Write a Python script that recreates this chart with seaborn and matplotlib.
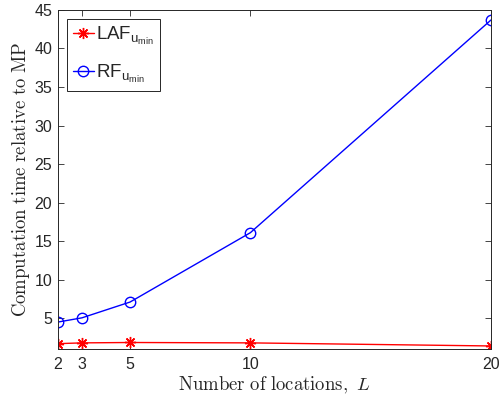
import matplotlib
matplotlib.use("Agg")
import matplotlib.pyplot as plt
import seaborn as sns
import pandas as pd

locations = [2, 3, 5, 10, 20]
laf_values = [1.7, 1.8, 1.85, 1.8, 1.4]
rf_values = [4.5, 5.05, 7.1, 16.1, 43.7]
y_ticks = [5, 10, 15, 20, 25, 30, 35, 40, 45]

sns.set_style("ticks")
plt.rcParams['font.family'] = ['Liberation Sans', 'DejaVu Sans']
plt.rcParams['mathtext.fontset'] = 'custom'
plt.rcParams['mathtext.rm'] = 'Liberation Sans'
plt.rcParams['mathtext.it'] = 'Liberation Sans'

fig = plt.figure(figsize=(4.99, 3.98), dpi=100)
ax = fig.add_axes([0.116, 0.123, 0.868, 0.852])

df_laf = pd.DataFrame({"L": locations, "v": laf_values})
df_rf = pd.DataFrame({"L": locations, "v": rf_values})

sns.lineplot(data=df_laf, x="L", y="v", ax=ax, color="#ff0000", marker=(8, 2, 0),
             markersize=8, markeredgecolor="#ff0000", markeredgewidth=1.0,
             linewidth=1.0, label=r'LAF$_{\mathrm{u_{min}}}$')
sns.lineplot(data=df_rf, x="L", y="v", ax=ax, color="#0000ff", marker="o",
             markersize=7.5, markeredgecolor="#0000ff", markerfacecolor="none",
             markeredgewidth=1.0, linewidth=1.0, label=r'RF$_{\mathrm{u_{min}}}$')

ax.set_xlim(2, 20)
ax.set_ylim(1, 45)
ax.set_xticks(locations)
ax.set_xticklabels([str(v) for v in locations])
ax.set_yticks(y_ticks)
ax.tick_params(direction='in', top=True, right=True, labelsize=11.5, length=4,
               width=0.6, colors='#262626', labelcolor='#262626', pad=4)
ax.tick_params(axis='x', pad=6)
for s in ax.spines.values():
    s.set_visible(True)
    s.set_linewidth(0.7)
    s.set_color('#262626')

ax.set_xlabel(r'$\mathrm{Number\ of\ locations,}\ L$', fontsize=13.5, math_fontfamily='cm', labelpad=2)
ax.set_ylabel(r'$\mathrm{Computation\ time\ relative\ to\ MP}$', fontsize=13.5, math_fontfamily='cm', labelpad=2)

leg = ax.legend(loc='upper left', fontsize=13.5, frameon=True, fancybox=False,
                edgecolor='#262626', framealpha=1, handlelength=1.1,
                borderaxespad=0.5, labelspacing=0.85, handletextpad=0.15,
                borderpad=0.3)
leg.get_frame().set_linewidth(0.7)

fig.savefig("out.png", dpi=100)
